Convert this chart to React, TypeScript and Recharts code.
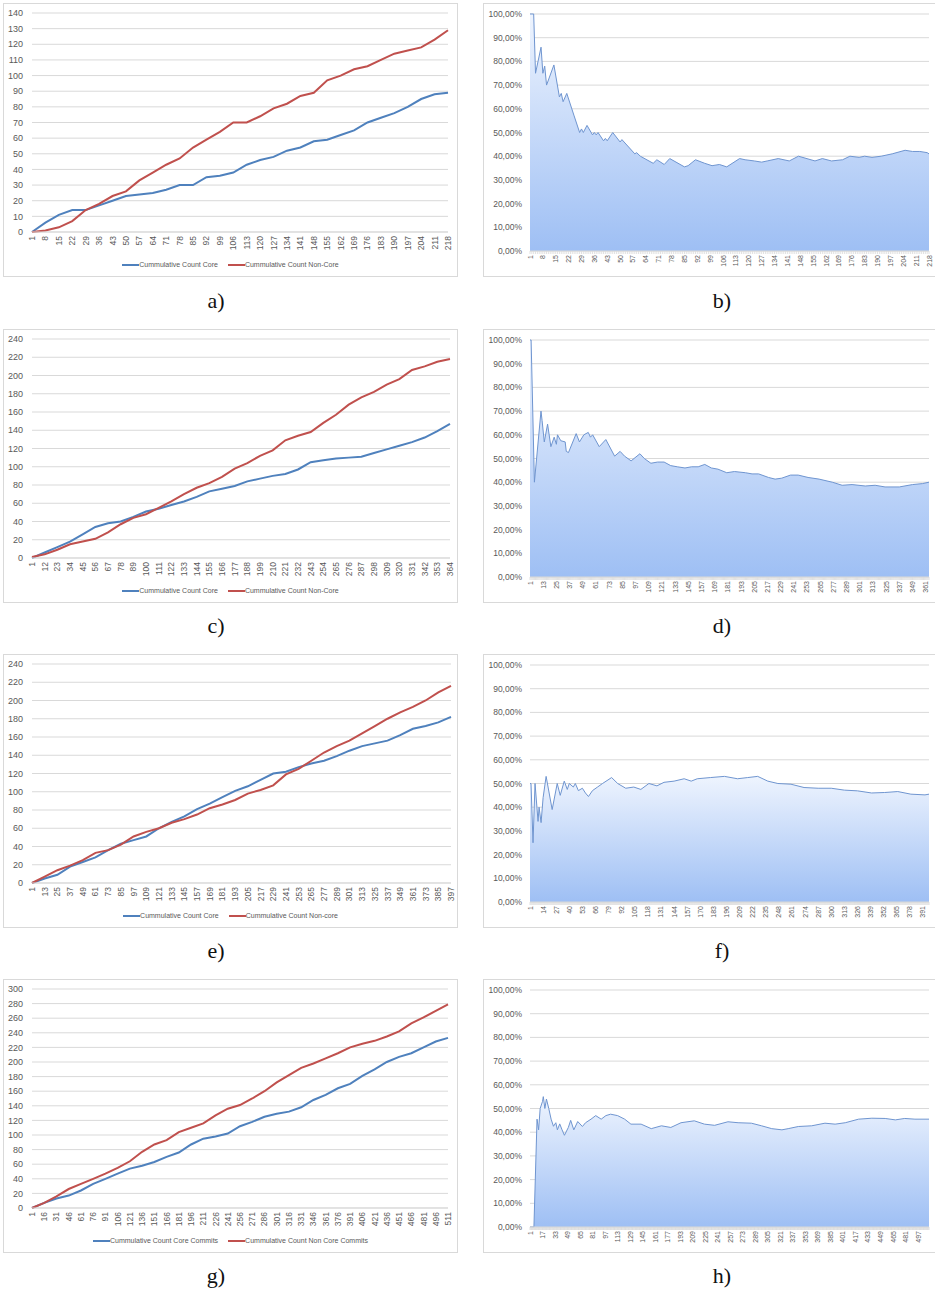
import React from 'react';
import { LineChart, Line, AreaChart, Area, XAxis, YAxis, CartesianGrid } from 'recharts';

// a) / b)
const aTicks = [1, 8, 15, 22, 29, 36, 43, 50, 57, 64, 71, 78, 85, 92, 99, 106, 113, 120, 127, 134, 141, 148, 155, 162, 169, 176, 183, 190, 197, 204, 211, 218];
const aCore = [0, 6, 11, 14, 14, 17, 20, 23, 24, 25, 27, 30, 30, 35, 36, 38, 43, 46, 48, 52, 54, 58, 59, 62, 65, 70, 73, 76, 80, 85, 88, 89];
const aNonCore = [0, 1, 3, 7, 14, 18, 23, 26, 33, 38, 43, 47, 54, 59, 64, 70, 70, 74, 79, 82, 87, 89, 97, 100, 104, 106, 110, 114, 116, 118, 123, 129];
const aY = [0, 10, 20, 30, 40, 50, 60, 70, 80, 90, 100, 110, 120, 130, 140];

const bX = [1, 3, 4, 7, 8, 9, 10, 14, 17, 18, 19, 21, 25, 28, 29, 30, 32, 35, 36, 37, 38, 41, 42, 43, 46, 50, 51, 58, 59, 61, 68, 70, 74, 77, 85, 87, 91, 96, 100, 104, 108, 115, 118, 123, 127, 130, 136, 142, 147, 156, 160, 165, 171, 175, 180, 183, 187, 192, 198, 205, 209, 213, 217, 218];
const bRatio = [100, 100, 75, 86, 75, 78, 70, 78.5, 65, 66.5, 63, 66.5, 57, 50, 51.5, 50, 53, 49, 50, 49, 50, 46.5, 47.5, 46.5, 50, 46, 47, 41, 41.5, 40, 37, 38.5, 36.5, 39, 35.5, 36, 38.5, 37, 36, 36.5, 35.5, 39, 38.5, 38, 37.5, 38, 39, 38, 40, 38, 39, 38, 38.5, 40, 39.5, 40, 39.5, 40, 41, 42.5, 42, 42, 41.5, 41];

// c) / d)
const cTicks = [1, 12, 23, 34, 45, 56, 67, 78, 89, 100, 111, 122, 133, 144, 155, 166, 177, 188, 199, 210, 221, 232, 243, 254, 265, 276, 287, 298, 309, 320, 331, 342, 353, 364];
const cCore = [0, 6, 12, 18, 26, 34, 38, 40, 45, 51, 54, 58, 62, 67, 73, 76, 79, 84, 87, 90, 92, 97, 105, 107, 109, 110, 111, 115, 119, 123, 127, 132, 139, 147];
const cNonCore = [1, 4, 9, 15, 18, 21, 28, 37, 44, 48, 55, 62, 70, 77, 82, 89, 98, 104, 112, 118, 129, 134, 138, 148, 157, 168, 176, 182, 190, 196, 206, 210, 215, 218];
const cY = [0, 20, 40, 60, 80, 100, 120, 140, 160, 180, 200, 220, 240];

const dTicks = [1, 13, 25, 37, 49, 61, 73, 85, 97, 109, 121, 133, 145, 157, 169, 181, 193, 205, 217, 229, 241, 253, 265, 277, 289, 301, 313, 325, 337, 349, 361];
const dX = [1, 2, 5, 11, 12, 14, 17, 20, 23, 25, 26, 29, 33, 34, 36, 43, 46, 50, 54, 56, 58, 64, 70, 78, 83, 87, 93, 101, 105, 111, 117, 123, 129, 135, 142, 148, 154, 160, 166, 172, 180, 187, 197, 203, 209, 218, 224, 230, 238, 245, 254, 264, 276, 285, 294, 306, 315, 324, 337, 349, 358, 364];
const dRatio = [100, 100, 40, 70, 66, 57, 64.5, 55, 59, 56, 60, 57.5, 57, 53, 52.5, 60.5, 57, 60, 61, 59, 60, 55, 58, 51, 53, 51, 49, 52, 50, 48, 48.5, 48.5, 47, 46.5, 46, 46.5, 46.5, 47.5, 46, 45.5, 44, 44.5, 44, 43.5, 43.5, 42, 41.3, 41.7, 43, 43, 42, 41.3, 40, 38.7, 39, 38.4, 38.7, 38, 38, 39, 39.4, 40];

// e) / f)
const eTicks = [1, 13, 25, 37, 49, 61, 73, 85, 97, 109, 121, 133, 145, 157, 169, 181, 193, 205, 217, 229, 241, 253, 265, 277, 289, 301, 313, 325, 337, 349, 361, 373, 385, 397];
const eCore = [0, 5, 9, 18, 23, 28, 36, 43, 47, 51, 60, 67, 73, 81, 87, 94, 101, 106, 113, 120, 122, 127, 131, 134, 139, 145, 150, 153, 156, 162, 169, 172, 176, 182];
const eNonCore = [0, 7, 14, 19, 25, 33, 36, 42, 51, 56, 60, 66, 70, 75, 82, 86, 91, 98, 102, 107, 119, 125, 134, 143, 150, 156, 164, 172, 180, 187, 193, 200, 209, 216];

const fTicks = [1, 14, 27, 40, 53, 66, 79, 92, 105, 118, 131, 144, 157, 170, 183, 196, 209, 222, 235, 248, 261, 274, 287, 300, 313, 326, 339, 352, 365, 378, 391];
const fX = [1, 2, 4, 6, 9, 10, 12, 14, 17, 23, 28, 31, 35, 38, 40, 44, 46, 49, 53, 56, 59, 63, 68, 73, 82, 88, 96, 104, 111, 119, 127, 134, 144, 154, 161, 167, 180, 194, 207, 217, 227, 237, 247, 260, 273, 287, 300, 313, 326, 340, 353, 366, 379, 393, 397];
const fRatio = [50, 50, 25, 50, 34, 40, 33.5, 44, 53, 39, 50, 45, 51, 47.5, 50, 48.5, 50, 47, 48, 46, 44.5, 47, 48.5, 50, 52.5, 50, 48, 48.5, 47.5, 50, 49, 50.5, 51, 52, 51, 52, 52.5, 53, 52, 52.5, 53, 51, 50, 49.7, 48.3, 48, 48, 47.2, 46.9, 46, 46.2, 46.6, 45.5, 45.2, 45.5];

// g) / h)
const gTicks = [1, 16, 31, 46, 61, 76, 91, 106, 121, 136, 151, 166, 181, 196, 211, 226, 241, 256, 271, 286, 301, 316, 331, 346, 361, 376, 391, 406, 421, 436, 451, 466, 481, 496, 511];
const gCore = [0, 7, 13, 17, 24, 33, 40, 47, 54, 58, 63, 70, 76, 87, 95, 98, 102, 112, 118, 125, 129, 132, 138, 148, 155, 164, 170, 181, 190, 200, 207, 212, 220, 228, 233];
const gNonCore = [0, 7, 16, 26, 33, 40, 47, 55, 64, 77, 87, 93, 104, 110, 116, 127, 136, 141, 150, 160, 172, 182, 192, 198, 205, 212, 220, 225, 229, 235, 242, 253, 261, 270, 279];
const gY = [0, 20, 40, 60, 80, 100, 120, 140, 160, 180, 200, 220, 240, 260, 280, 300];

const hTicks = [1, 17, 33, 49, 65, 81, 97, 113, 129, 145, 161, 177, 193, 209, 225, 241, 257, 273, 289, 305, 321, 337, 353, 369, 385, 401, 417, 433, 449, 465, 481, 497];
const hX = [1, 6, 10, 12, 14, 17, 18, 20, 22, 25, 28, 31, 34, 36, 39, 42, 45, 50, 53, 57, 62, 68, 72, 79, 85, 92, 98, 104, 113, 122, 130, 143, 156, 169, 181, 194, 211, 224, 237, 254, 267, 284, 297, 310, 323, 331, 344, 361, 378, 391, 404, 421, 438, 455, 468, 480, 493, 511];
const hRatio = [0, 0, 45.5, 41, 50, 53, 55, 50, 54, 50, 45.5, 42.5, 44, 41, 43.5, 41, 38.7, 42, 45, 41, 44.5, 42.4, 44, 45.5, 47, 45.5, 47, 47.6, 47, 45.5, 43.4, 43.4, 41.5, 42.7, 42, 44, 44.8, 43.4, 42.9, 44.4, 44, 43.8, 42.7, 41.5, 41, 41.5, 42.4, 42.7, 43.8, 43.4, 44, 45.5, 45.9, 45.8, 45.2, 45.8, 45.5, 45.5];

const pctTicks = [0, 10, 20, 30, 40, 50, 60, 70, 80, 90, 100];

const CORE = '#4f81bd';
const NONCORE = '#c0504d';
const GRID = '#d9d9d9';
const LABEL = '#595959';
const SANS = '"Liberation Sans", Arial, sans-serif';

function VTick({ x, y, payload, fontSize }: any) {
  return (
    <text
      x={x}
      y={y}
      transform={`rotate(-90, ${x}, ${y})`}
      textAnchor="end"
      dominantBaseline="central"
      fontSize={fontSize}
      fontFamily={SANS}
      fill={LABEL}
    >
      {payload.value}
    </text>
  );
}

// every category gets a small tick mark (like Excel), only some get a label
function CategoryTick({ x, y, payload, labels }: any) {
  const axisY = y - 4;
  return (
    <g>
      <line x1={x} x2={x} y1={axisY} y2={axisY + 3} stroke={GRID} strokeWidth={0.8} />
      {labels.includes(payload.value) && (
        <text
          x={x}
          y={y}
          transform={`rotate(-90, ${x}, ${y})`}
          textAnchor="end"
          dominantBaseline="central"
          fontSize={7}
          fontFamily={SANS}
          fill={LABEL}
        >
          {payload.value}
        </text>
      )}
    </g>
  );
}

interface CountProps {
  left: number;
  top: number;
  ticks: number[];
  yTicks: number[];
  core: number[];
  nonCore: number[];
  names: [string, string];
  right: number;
}

function CountPanel({ left, top, ticks, yTicks, core, nonCore, names, right }: CountProps) {
  const data = ticks.map((x, i) => ({ x, core: core[i], nonCore: nonCore[i] }));
  const last = ticks[ticks.length - 1];
  return (
    <div style={{ position: 'absolute', left, top, width: 455, height: 274, border: `1px solid ${GRID}`, boxSizing: 'border-box', background: '#fff' }}>
      <div style={{ position: 'absolute', left: -1, top: -1 }}>
        <LineChart width={455} height={274} data={data} margin={{ top: 10, right, left: 3, bottom: 25 }}>
          <CartesianGrid vertical={false} stroke={GRID} />
          <XAxis
            dataKey="x"
            type="number"
            domain={[1, last]}
            ticks={ticks}
            interval={0}
            height={20}
            tickSize={0}
            tickMargin={4}
            axisLine={{ stroke: GRID }}
            tick={<VTick fontSize={8.5} />}
          />
          <YAxis
            domain={[yTicks[0], yTicks[yTicks.length - 1]]}
            ticks={yTicks}
            interval={0}
            width={26}
            tickSize={0}
            tickMargin={9}
            axisLine={false}
            tick={{ fontSize: 9, fill: LABEL, fontFamily: SANS }}
          />
          <Line type="linear" dataKey="core" stroke={CORE} strokeWidth={2} dot={false} isAnimationActive={false} />
          <Line type="linear" dataKey="nonCore" stroke={NONCORE} strokeWidth={2} dot={false} isAnimationActive={false} />
        </LineChart>
      </div>
      <div
        style={{
          position: 'absolute',
          left: 0,
          width: '100%',
          top: 257,
          display: 'flex',
          justifyContent: 'center',
          alignItems: 'center',
          gap: 10,
          fontFamily: SANS,
          fontSize: 7,
          color: LABEL,
        }}
      >
        {[CORE, NONCORE].map((c, i) => (
          <div key={i} style={{ display: 'flex', alignItems: 'center' }}>
            <div style={{ width: 17, height: 2, background: c }} />
            <span>{names[i]}</span>
          </div>
        ))}
      </div>
    </div>
  );
}

interface RatioProps {
  id: string;
  top: number;
  xs: number[];
  values: number[];
  ticks: number[];
  last: number;
}

function RatioPanel({ id, top, xs, values, ticks, last }: RatioProps) {
  const data = xs.map((x, i) => ({ x, ratio: values[i] }));
  const categories = Array.from({ length: last }, (_, i) => i + 1);
  return (
    <div style={{ position: 'absolute', left: 483, top, width: 452, height: 274, border: `1px solid ${GRID}`, borderRight: 'none', boxSizing: 'border-box', background: '#fff' }}>
      <div style={{ position: 'absolute', left: -1, top: -1 }}>
        <AreaChart width={452} height={274} data={data} margin={{ top: 11, right: 6, left: 0, bottom: 4 }}>
          <defs>
            <linearGradient id={id} x1="0" y1="0" x2="0" y2="1">
              <stop offset="0%" stopColor="#eef4fe" />
              <stop offset="100%" stopColor="#9ebff4" />
            </linearGradient>
          </defs>
          <CartesianGrid vertical={false} stroke={GRID} />
          <XAxis
            dataKey="x"
            type="number"
            domain={[1, last]}
            ticks={categories}
            interval={0}
            height={22}
            tickSize={0}
            tickMargin={4}
            axisLine={{ stroke: GRID }}
            tick={<CategoryTick labels={ticks} />}
          />
          <YAxis
            domain={[0, 100]}
            ticks={pctTicks}
            interval={0}
            width={47}
            tickSize={0}
            tickMargin={8}
            axisLine={false}
            tickFormatter={(v: number) => `${v.toFixed(2).replace('.', ',')}%`}
            tick={{ fontSize: 8.5, fill: LABEL, fontFamily: SANS }}
          />
          <Area
            type="linear"
            dataKey="ratio"
            stroke="#6f95d0"
            strokeWidth={1}
            fill={`url(#${id})`}
            fillOpacity={1}
            isAnimationActive={false}
          />
        </AreaChart>
      </div>
    </div>
  );
}

function Caption({ text, x, y }: { text: string; x: number; y: number }) {
  return (
    <div
      style={{
        position: 'absolute',
        left: x - 30,
        top: y - 14,
        width: 60,
        height: 28,
        lineHeight: '28px',
        textAlign: 'center',
        fontFamily: '"Liberation Serif", "Times New Roman", serif',
        fontSize: 22,
        color: '#111',
      }}
    >
      {text}
    </div>
  );
}

export default function App() {
  return (
    <div style={{ position: 'absolute', left: 0, top: 0, width: 935, height: 1293, background: '#fff', overflow: 'hidden' }}>
      <CountPanel left={3} top={3} ticks={aTicks} yTicks={aY} core={aCore} nonCore={aNonCore} right={10} names={['Cummulative Count Core', 'Cummulative Count Non-Core']} />
      <RatioPanel id="gb" top={3} xs={bX} values={bRatio} ticks={aTicks} last={218} />
      <Caption text="a)" x={216} y={301} />
      <Caption text="b)" x={722} y={301} />

      <CountPanel left={3} top={329} ticks={cTicks} yTicks={cY} core={cCore} nonCore={cNonCore} right={8} names={['Cummulative Count Core', 'Cummulative Count Non-Core']} />
      <RatioPanel id="gd" top={329} xs={dX} values={dRatio} ticks={dTicks} last={364} />
      <Caption text="c)" x={216} y={626} />
      <Caption text="d)" x={722} y={626} />

      <CountPanel left={3} top={654} ticks={eTicks} yTicks={cY} core={eCore} nonCore={eNonCore} right={7} names={['Cummulative Count Core', 'Cummulative Count Non-core']} />
      <RatioPanel id="gf" top={654} xs={fX} values={fRatio} ticks={fTicks} last={397} />
      <Caption text="e)" x={216} y={951} />
      <Caption text="f)" x={722} y={951} />

      <CountPanel left={3} top={979} ticks={gTicks} yTicks={gY} core={gCore} nonCore={gNonCore} right={10} names={['Cummulative Count Core Commits', 'Cummulative Count Non Core Commits']} />
      <RatioPanel id="gh" top={979} xs={hX} values={hRatio} ticks={hTicks} last={511} />
      <Caption text="g)" x={216} y={1276} />
      <Caption text="h)" x={722} y={1276} />
    </div>
  );
}
